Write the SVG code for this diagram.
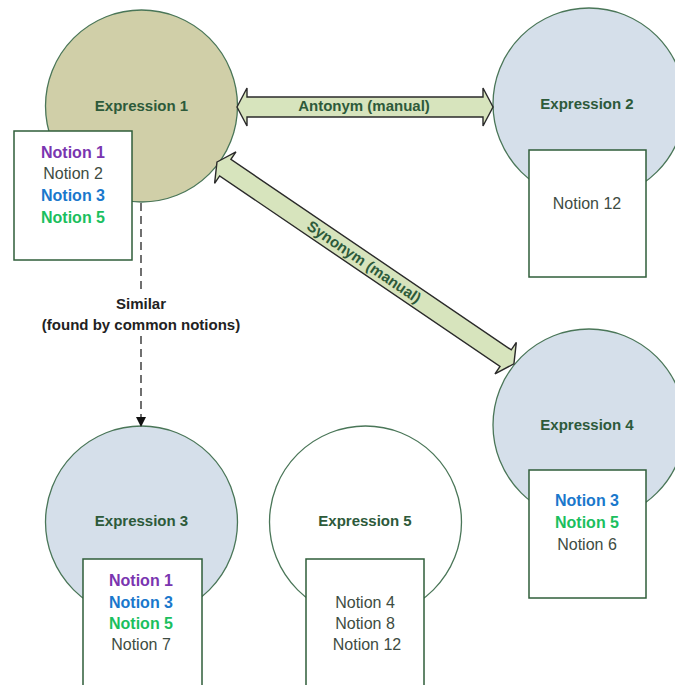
<svg xmlns="http://www.w3.org/2000/svg" width="675" height="685" viewBox="0 0 675 685">
<defs>
<style>
.circ{stroke:#4a7658;stroke-width:1.3}
.box{fill:#fff;stroke:#2f5e3a;stroke-width:1.5}
.ex{font-family:"Liberation Sans",Arial,sans-serif;font-weight:bold;font-size:15px;fill:#2d5a3a;text-anchor:middle}
.nt{font-family:"Liberation Sans",Arial,sans-serif;font-size:16px;fill:#3e4c42;text-anchor:middle}
.nb{font-weight:bold}
.n1{fill:#7a35b0}
.n3{fill:#1a78cc}
.n5{fill:#1bbf5e}
.arr{fill:#d7e4bd;stroke:#2a2a2a;stroke-width:1.4;stroke-linejoin:miter}
.al{font-family:"Liberation Sans",Arial,sans-serif;font-weight:bold;font-size:15px;fill:#2d5a3a;text-anchor:middle}
.sim{font-family:"Liberation Sans",Arial,sans-serif;font-weight:bold;font-size:15px;fill:#222;text-anchor:middle}
.dash{stroke:#111;stroke-width:1.2;stroke-dasharray:8 5;fill:none}
</style>
<marker id="ah" markerWidth="10" markerHeight="10" refX="9" refY="5" orient="auto" markerUnits="userSpaceOnUse">
<path d="M0,0 L10,5 L0,10 Z" fill="#111"/>
</marker>
</defs>
<rect width="675" height="685" fill="#fff"/>

<g id="expr1">
<circle class="circ" cx="141.5" cy="106" r="96" fill="#d0cfa8"/>
<text class="ex" x="141.5" y="111">Expression 1</text>
<rect class="box" x="14" y="131" width="118" height="129"/>
<text class="nt nb n1" x="73" y="158">Notion 1</text>
<text class="nt" x="73" y="179">Notion 2</text>
<text class="nt nb n3" x="73" y="201">Notion 3</text>
<text class="nt nb n5" x="73" y="223">Notion 5</text>
</g>

<g id="expr2">
<circle class="circ" cx="589" cy="104" r="96" fill="#d5dfea"/>
<text class="ex" x="587" y="109">Expression 2</text>
<rect class="box" x="529" y="150" width="117" height="127"/>
<text class="nt" x="587" y="209">Notion 12</text>
</g>

<g id="expr4">
<circle class="circ" cx="589" cy="425" r="96" fill="#d5dfea"/>
<text class="ex" x="587" y="430">Expression 4</text>
<rect class="box" x="529" y="470" width="117" height="128"/>
<text class="nt nb n3" x="587" y="506">Notion 3</text>
<text class="nt nb n5" x="587" y="528">Notion 5</text>
<text class="nt" x="587" y="550">Notion 6</text>
</g>

<g id="expr3">
<circle class="circ" cx="141.5" cy="522" r="96" fill="#d5dfea"/>
<text class="ex" x="141.5" y="526">Expression 3</text>
<rect class="box" x="83" y="559" width="119" height="140"/>
<text class="nt nb n1" x="141" y="586">Notion 1</text>
<text class="nt nb n3" x="141" y="608">Notion 3</text>
<text class="nt nb n5" x="141" y="629">Notion 5</text>
<text class="nt" x="141" y="650">Notion 7</text>
</g>

<g id="expr5">
<circle class="circ" cx="365.5" cy="522" r="96" fill="#fff"/>
<text class="ex" x="365" y="526">Expression 5</text>
<rect class="box" x="306" y="559" width="118" height="140"/>
<text class="nt" x="365" y="608">Notion 4</text>
<text class="nt" x="365" y="629">Notion 8</text>
<text class="nt" x="367" y="650">Notion 12</text>
</g>

<g id="connectors">
<polygon class="arr" transform="translate(237,107)" points="0,0 10,-19 10,-10 246,-10 246,-19 256,0 246,19 246,10 10,10 10,19"/>
<text class="al" x="364" y="111">Antonym (manual)</text>
<polygon class="arr" transform="translate(217,162) rotate(34.2)" points="0,0 10,-19 10,-10 349,-10 349,-19 359,0 349,19 349,10 10,10 10,19"/>
<text class="al" transform="translate(364,262) rotate(34.2)" x="0" y="5">Synonym (manual)</text>
<line class="dash" x1="141" y1="203" x2="141" y2="290"/>
<line class="dash" x1="141" y1="336" x2="141" y2="426" marker-end="url(#ah)"/>
<text class="sim" x="141" y="309">Similar</text>
<text class="sim" x="141" y="330">(found by common notions)</text>
</g>
</svg>
